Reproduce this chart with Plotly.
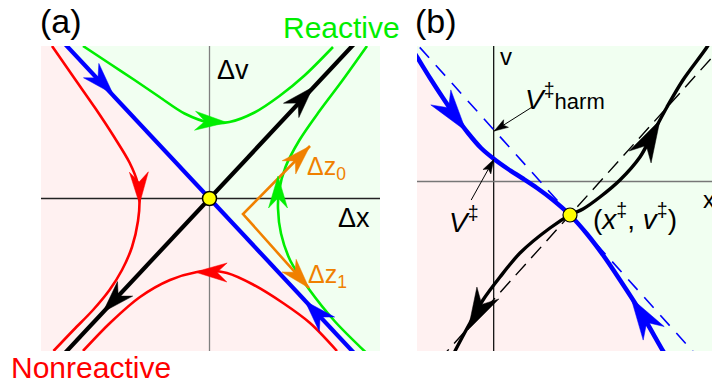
import math
import plotly.graph_objects as go

# ---------------- values ----------------
# Panel (a): motion near the saddle in (Δx, Δv)
a_stable_x = [-3.2, 3.2]            # blue separatrix
a_stable_y = [3.42, -3.42]
a_unstable_x = [-3.2, 3.2]          # black separatrix
a_unstable_y = [-3.42, 3.42]

a_react_top_x = [-2.53, -2.0, -1.5, -1.0, -0.5, 0.0, 0.4, 0.9, 1.4, 1.9, 2.47]
a_react_top_y = [3.05, 2.70, 2.37, 2.03, 1.70, 1.52, 1.53, 1.72, 2.05, 2.46, 3.03]
a_react_right_x = [3.15, 2.65, 2.20, 1.80, 1.52, 1.39, 1.37, 1.43, 1.62, 1.98, 2.50, 3.15]
a_react_right_y = [3.05, 2.35, 1.75, 1.17, 0.63, 0.15, -0.20, -0.70, -1.25, -1.80, -2.45, -3.10]
a_nonreact_left_x = [-3.15, -2.72, -2.28, -1.90, -1.60, -1.44, -1.40, -1.43, -1.55, -1.75,
                     -2.00, -2.33, -2.72, -3.12]
a_nonreact_left_y = [3.05, 2.43, 1.80, 1.22, 0.72, 0.32, 0.0, -0.45, -0.97, -1.43,
                     -1.83, -2.23, -2.63, -3.05]
a_nonreact_bottom_x = [-2.53, -1.99, -1.39, -0.79, -0.25, 0.01, 0.35, 0.87, 1.47, 2.01, 2.55]
a_nonreact_bottom_y = [-3.05, -2.49, -1.97, -1.63, -1.47, -1.45, -1.49, -1.72, -2.09, -2.49, -3.05]

a_dz_x = [2.01, 0.67, 1.99]         # Δz0 tip, corner, Δz1 tip
a_dz_y = [1.05, -0.31, -1.79]

# arrowheads of panel (a): tip x, tip y, tail x, tail y
a_head_blue = [(-1.93, 2.09, -2.35, 2.54), (1.91, -2.05, 2.43, -2.60)]
a_head_black = [(2.07, 2.23, 1.65, 1.78), (-2.13, -2.27, -1.71, -1.83)]
a_head_green = [(0.35, 1.52, -0.19, 1.55), (1.37, 0.45, 1.37, -0.23)]
a_head_red = [(-1.40, -0.11, -1.41, 0.41), (-0.29, -1.47, 0.37, -1.48)]

# Panel (b): anharmonic barrier in (x, v)
b_blue_x = [-1.774, -1.534, -1.274, -1.014, -0.754, -0.514, -0.254, 0.006, 0.286, 0.566,
            0.866, 1.186, 1.526, 1.866, 2.186, 2.526, 2.926, 3.386, 3.566]
b_blue_y = [2.87, 2.49, 2.07, 1.67, 1.29, 0.97, 0.67, 0.45, 0.25, 0.07,
            -0.13, -0.37, -0.67, -1.05, -1.47, -1.97, -2.59, -3.39, -3.69]
b_blue_dash_x = [-1.8, 4.2]
b_blue_dash_y = [3.04, -3.64]
b_black_x = [4.45, 4.266, 3.786, 3.466, 3.186, 2.926, 2.526, 2.126, 1.786, 1.526, 1.126,
             0.526, 0.126, -0.214, -0.474, -0.774, -0.874]
b_black_y = [3.0, 2.69, 2.03, 1.49, 0.97, 0.49, 0.03, -0.31, -0.55, -0.67, -0.93,
             -1.43, -1.91, -2.37, -2.83, -3.39, -3.59]
b_black_dash_x = [-1.1, 4.6]
b_black_dash_y = [-3.58, 2.74]
b_saddle_x = [1.526]
b_saddle_y = [-0.67]

b_head_blue = [(-0.554, 1.01, -0.854, 1.41), (2.746, -2.33, 3.016, -2.75)]
b_head_black = [(3.326, 1.23, 3.046, 0.71), (-0.514, -2.97, -0.234, -2.45)]
b_pointers = [(0.01, 1.01, 0.77, 1.49), (0.0, 0.44, -0.45, -0.37)]

# ---------------- layout geometry ----------------
W, H = 712, 384
UNIT = 50.0
PA = dict(x0=41, x1=380, y0=46, y1=351, ox=209.5, oy=198.5)
PB = dict(x0=417, x1=712, y0=46, y1=351, ox=493.7, oy=181.5)

BLUE, BLACK, RED, GREEN, ORANGE = "#0000ff", "#000000", "#ff0000", "#00ee00", "#f08000"
PINK_BG, GREEN_BG = "#fff1f1", "#f1fff1"
FONT = "Arial, 'Liberation Sans', sans-serif"


def rng(p):
    return ([(p["x0"] - p["ox"]) / UNIT, (p["x1"] - p["ox"]) / UNIT],
            [(p["oy"] - p["y1"]) / UNIT, (p["oy"] - p["y0"]) / UNIT])


xa_rng, ya_rng = rng(PA)
xb_rng, yb_rng = rng(PB)

fig = go.Figure()


def line(x, y, color, width, ax="x", ay="y", shape="spline", dash=None):
    fig.add_trace(go.Scatter(x=x, y=y, mode="lines", xaxis=ax, yaxis=ay,
                             line=dict(color=color, width=width, shape=shape, dash=dash,
                                       smoothing=0.9),
                             hoverinfo="skip", showlegend=False))


def head(spec, color, L, Wd, notch, ax="x", ay="y"):
    tx, ty, sx, sy = spec
    dx, dy = tx - sx, ty - sy
    n = math.hypot(dx, dy)
    ux, uy = dx / n, dy / n
    px, py = -uy, ux
    L, Wd, notch = L / UNIT, Wd / UNIT, notch / UNIT
    xs = [tx, tx - L * ux + Wd / 2 * px, tx - (L - notch) * ux, tx - L * ux - Wd / 2 * px, tx]
    ys = [ty, ty - L * uy + Wd / 2 * py, ty - (L - notch) * uy, ty - L * uy - Wd / 2 * py, ty]
    fig.add_trace(go.Scatter(x=xs, y=ys, mode="lines", fill="toself", fillcolor=color,
                             line=dict(width=0.5, color=color), xaxis=ax, yaxis=ay,
                             hoverinfo="skip", showlegend=False))


# ---- panel (a) ----
big = 10
fig.add_trace(go.Scatter(
    x=[a_stable_x[0], a_stable_x[1], -big, -big], y=[a_stable_y[0], a_stable_y[1], -big, big],
    mode="lines", fill="toself", fillcolor=PINK_BG, line=dict(width=0),
    hoverinfo="skip", showlegend=False))
line([0, 0], ya_rng, "#808080", 1.3, shape="linear")
line(xa_rng, [0, 0], "#222222", 1.3, shape="linear")
line(a_react_top_x, a_react_top_y, GREEN, 2.6)
line(a_react_right_x, a_react_right_y, GREEN, 2.6)
line(a_nonreact_left_x, a_nonreact_left_y, RED, 2.6)
line(a_nonreact_bottom_x, a_nonreact_bottom_y, RED, 2.6)
line(a_stable_x, a_stable_y, BLUE, 4.2, shape="linear")
line(a_unstable_x, a_unstable_y, BLACK, 4.2, shape="linear")
line(a_dz_x, a_dz_y, ORANGE, 2.6, shape="linear")
for s in a_head_blue:
    head(s, BLUE, 32, 21, 10)
for s in a_head_black:
    head(s, BLACK, 32, 21, 10)
for s in a_head_green:
    head(s, GREEN, 32, 19, 10)
for s in a_head_red:
    head(s, RED, 32, 19, 10)
head((a_dz_x[0], a_dz_y[0], a_dz_x[1], a_dz_y[1]), ORANGE, 30, 19, 9)
head((a_dz_x[2], a_dz_y[2], a_dz_x[1], a_dz_y[1]), ORANGE, 30, 19, 9)
fig.add_trace(go.Scatter(x=[0], y=[0], mode="markers",
                         marker=dict(size=14, color="#ffff00", line=dict(color="#000000", width=1.5)),
                         hoverinfo="skip", showlegend=False))

# ---- panel (b) ----
fig.add_trace(go.Scatter(
    x=b_blue_x + [b_blue_x[-1], -big, -big], y=b_blue_y + [-big, -big, b_blue_y[0]],
    mode="lines", fill="toself", fillcolor=PINK_BG, line=dict(width=0, shape="spline", smoothing=0.9),
    xaxis="x2", yaxis="y2", hoverinfo="skip", showlegend=False))
line([0, 0], yb_rng, "#000000", 1.2, "x2", "y2", shape="linear")
line(xb_rng, [0, 0], "#777777", 1.3, "x2", "y2", shape="linear")
line(b_blue_dash_x, b_blue_dash_y, BLUE, 1.6, "x2", "y2", shape="linear", dash="14px,10px")
line(b_black_dash_x, b_black_dash_y, BLACK, 1.4, "x2", "y2", shape="linear", dash="15px,8px")
line(b_blue_x, b_blue_y, BLUE, 4.5, "x2", "y2")
line(b_black_x, b_black_y, BLACK, 3.4, "x2", "y2")
for s in b_pointers:
    tx, ty, sx, sy = s
    line([sx, tx], [sy, ty], BLACK, 1.0, "x2", "y2", shape="linear")
    head(s, BLACK, 14, 9, 3, "x2", "y2")
for s in b_head_blue:
    head(s, BLUE, 42, 25, 13, "x2", "y2")
for s in b_head_black:
    head(s, BLACK, 42, 25, 13, "x2", "y2")
fig.add_trace(go.Scatter(x=b_saddle_x, y=b_saddle_y, mode="markers", xaxis="x2", yaxis="y2",
                         marker=dict(size=14, color="#ffff00", line=dict(color="#000000", width=1.2)),
                         hoverinfo="skip", showlegend=False))


def txt(s, x, y, size, color="#000000", xref="paper", yref="paper", xanchor="center"):
    fig.add_annotation(text=s, x=x, y=y, xref=xref, yref=yref, showarrow=False,
                       xanchor=xanchor, yanchor="middle",
                       font=dict(family=FONT, size=size, color=color))


txt("(a)", 61 / W, 1 - 21 / H, 34)
txt("(b)", 436 / W, 1 - 21 / H, 34)
txt("Reactive", 341 / W, 1 - 27.5 / H, 30, GREEN)
txt("Nonreactive", 90.5 / W, 1 - 367.5 / H, 30, RED)
txt("Δv", 0.11, 2.56, 27, xref="x", yref="y", xanchor="left")
txt("Δx", 2.53, -0.38, 27, xref="x", yref="y", xanchor="left")
txt("Δz<sub>0</sub>", 1.91, 0.62, 25, ORANGE, "x", "y", "left")
txt("Δz<sub>1</sub>", 1.93, -1.54, 25, ORANGE, "x", "y", "left")
txt("v", 0.09, 2.50, 24, xref="x2", yref="y2", xanchor="left")
txt("x", 4.15, -0.35, 24, xref="x2", yref="y2", xanchor="left")
txt("<i>V</i><sup>‡</sup><span style='font-size:22px'>harm</span>", 0.59, 1.69, 28,
    xref="x2", yref="y2", xanchor="left")
txt("<i>V</i><sup>‡</sup>", -0.93, -0.77, 28, xref="x2", yref="y2", xanchor="left")
txt("(<i>x</i><sup>‡</sup>, <i>v</i><sup>‡</sup>)", 1.95, -0.71, 28, xref="x2", yref="y2",
    xanchor="left")

ax_common = dict(visible=False, showgrid=False, zeroline=False, fixedrange=True)
fig.update_layout(
    width=W, height=H, margin=dict(l=0, r=0, t=0, b=0),
    paper_bgcolor="#ffffff", plot_bgcolor=GREEN_BG, showlegend=False,
    xaxis=dict(domain=[PA["x0"] / W, PA["x1"] / W], range=xa_rng, **ax_common),
    yaxis=dict(domain=[1 - PA["y1"] / H, 1 - PA["y0"] / H], range=ya_rng, **ax_common),
    xaxis2=dict(domain=[PB["x0"] / W, 1.0], range=xb_rng, anchor="y2", **ax_common),
    yaxis2=dict(domain=[1 - PB["y1"] / H, 1 - PB["y0"] / H], range=yb_rng, anchor="x2",
                **ax_common),
)
fig.write_html("out.html", config={"displayModeBar": False, "staticPlot": True},
               post_script="document.body.style.margin='0px';"
                           "document.body.style.overflow='hidden';")
